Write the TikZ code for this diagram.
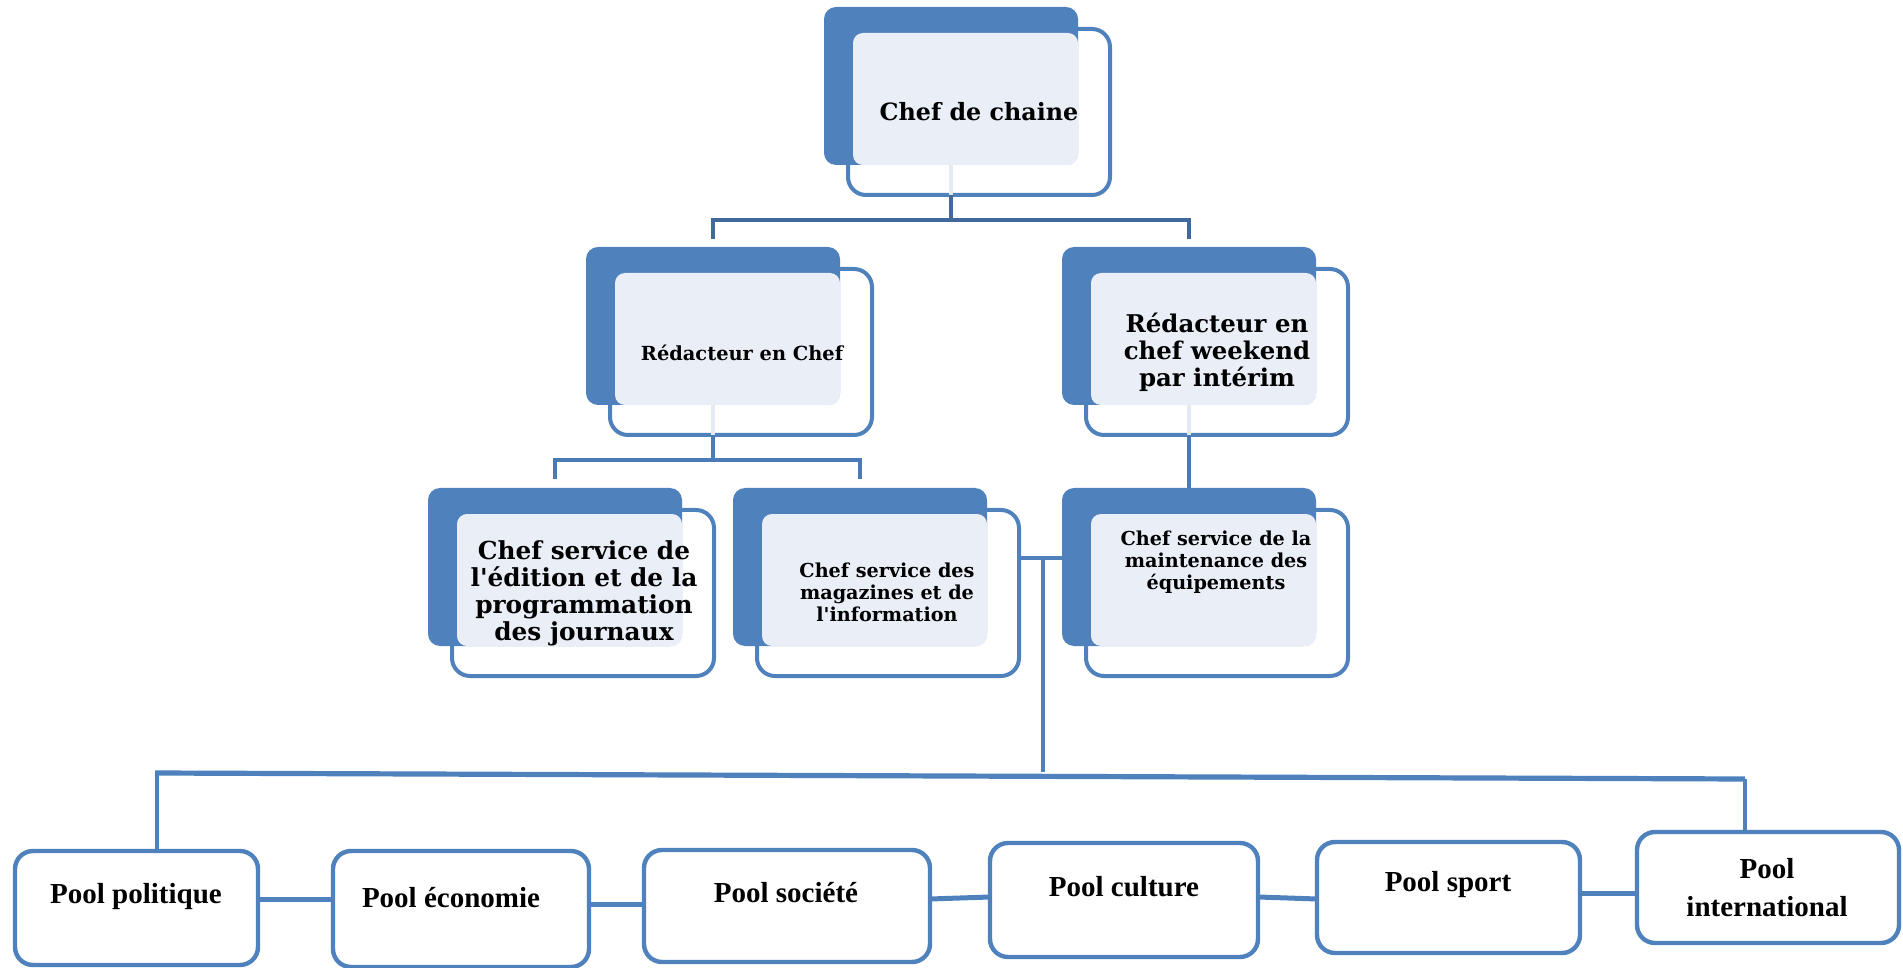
\documentclass[tikz,border=0pt]{standalone}
\usepackage{fontspec}
\setmainfont{Liberation Serif}
\newfontfamily\geo{DejaVu Serif}
\definecolor{myblue}{HTML}{4F81BD}
\definecolor{panelc}{HTML}{EAEFF7}
\definecolor{stubc}{HTML}{E4EAF3}
\definecolor{busdark}{HTML}{41699C}
\definecolor{busmid}{HTML}{4A7BB7}
\tikzset{
  frontbox/.style={draw=myblue, line width=2pt, fill=white, rounded corners=9pt,
    minimum width=131pt, minimum height=83pt, anchor=north west, inner sep=0pt, outer sep=0pt},
  backbox/.style={fill=myblue, rounded corners=6pt, minimum width=127pt, minimum height=79pt,
    anchor=north west, inner sep=0pt, outer sep=0pt},
  panelbox/.style={fill=panelc, rounded corners=5pt, minimum width=112.5pt, minimum height=66pt,
    anchor=north west, inner sep=0pt, outer sep=0pt},
  poolbox/.style={draw=myblue, line width=2.2pt, fill=white, rounded corners=9pt,
    anchor=north west, inner sep=0pt, outer sep=0pt},
  toptext/.style={align=center, inner sep=0pt, text=black},
  pooltext/.style={align=center, inner sep=0pt, text=black,
    font=\bfseries\fontsize{14.5}{19}\selectfont},
  stubline/.style={draw=stubc, line width=2pt},
  busA/.style={draw=busdark, line width=2.2pt},
  busB/.style={draw=busmid, line width=2.2pt},
  conn/.style={draw=myblue, line width=1.8pt},
  bigbus/.style={draw=myblue, line width=2.6pt},
  pconn/.style={draw=myblue, line width=2.5pt}
}
\newcommand{\orgbox}[3]{%
  \node[frontbox] (#1) at (#2+24,#3+22) {};
  \node[backbox] (#1-b) at (#2,#3) {};
  \node[panelbox] (#1-p) at (#2+29,#3+26) {};
}
\begin{document}
\begin{tikzpicture}[x=0.5pt,y=-0.5pt]
\useasboundingbox (0,0) rectangle (1903,968);

% upper boxes
\orgbox{cc}{824}{7}
\orgbox{rc}{586}{247}
\orgbox{rw}{1062}{247}
\orgbox{ed}{428}{488}
\orgbox{mg}{733}{488}
\orgbox{mt}{1062}{488}

\node[toptext, font=\geo\bfseries\fontsize{11.9}{13.5}\selectfont] (cc-t) at (979,112) {Chef de chaine};
\node[toptext, font=\geo\bfseries\fontsize{9.7}{11}\selectfont] (rc-t) at (742,353) {Rédacteur en Chef};
\node[toptext, font=\geo\bfseries\fontsize{12.2}{13.6}\selectfont] (rw-t) at (1217,352) {Rédacteur en\\chef weekend\\par intérim};
\node[toptext, font=\geo\bfseries\fontsize{12.4}{13.5}\selectfont] (ed-t) at (584,593) {Chef service de\\l'édition et de la\\programmation\\des journaux};
\node[toptext, font=\geo\bfseries\fontsize{9.6}{11}\selectfont] (mg-t) at (887,592) {Chef service des\\magazines et de\\l'information};
\node[toptext, font=\geo\bfseries\fontsize{9.6}{11}\selectfont] (mt-t) at (1216,562) {Chef service de la\\maintenance des\\équipements};

% connectors, level 1
\draw[stubline] (cc-b.south) -- (cc-b.south |- cc.south);
\draw[busA] (cc-b.south |- cc.south) -- ++(0,25) coordinate (j1);
\draw[busA] ([yshift=4pt]rc-b.north) |- (j1) -| ([yshift=4pt]rw-b.north);

% level 2
\draw[stubline] (rc-b.south) -- (rc-b.south |- rc.south);
\draw[busB] (rc-b.south |- rc.south) -- ++(0,25) coordinate (j2);
\draw[busB] ([yshift=4.5pt]ed-b.north) |- (j2) -| ([yshift=4.5pt]mg-b.north);

\draw[stubline] (rw-b.south) -- (rw-b.south |- rw.south);
\draw[busB] (rw-b.south |- rw.south) -- (mt-b.north);

% magazines to pools
\coordinate (m1) at ([yshift=-24pt]mg.north east);
\coordinate (m2) at (1043,558);
\coordinate (m3) at (1043,772);
\draw[conn] (m1) -- (m1 -| mt-b.west);
\draw[conn] (m2) -- (m3);

% pools
\node[poolbox, minimum width=121.5pt, minimum height=57pt] (pol) at (15,851) {};
\node[poolbox, minimum width=128pt, minimum height=58pt] (eco) at (333,851) {};
\node[poolbox, minimum width=143pt, minimum height=56pt] (soc) at (644,850) {};
\node[poolbox, minimum width=134pt, minimum height=57pt] (cul) at (990,843) {};
\node[poolbox, minimum width=131.5pt, minimum height=55.5pt] (spo) at (1317,842) {};
\node[poolbox, minimum width=131pt, minimum height=55.5pt] (int) at (1637,832) {};

\node[pooltext] (pol-t) at (136,897) {Pool politique};
\node[pooltext] (eco-t) at (451,898) {Pool économie};
\node[pooltext] (soc-t) at (786,893) {Pool société};
\node[pooltext] (cul-t) at (1124,887) {Pool culture};
\node[pooltext] (spo-t) at (1448,885) {Pool sport};
\node[pooltext] (int-t) at (1767,888) {Pool\\international};

% big bus
\coordinate (bl) at (155,773);
\coordinate (br) at (1745,779);
\draw[bigbus] (bl) -- (br);
\draw[conn] ([xshift=1pt]bl) -- ([xshift=1pt]bl |- pol.north);
\draw[conn] (br) -- (br |- int.north);

% pool connectors
\draw[pconn] ([yshift=4.5pt]pol.east) -- ([yshift=5pt]eco.west);
\draw[pconn] ([yshift=2.5pt]eco.east) -- ([yshift=1pt]soc.west);
\draw[pconn] ([yshift=3.5pt]soc.east) -- ([yshift=1.5pt]cul.west);
\draw[pconn] ([yshift=1.5pt]cul.east) -- ([yshift=-0.75pt]spo.west);
\draw[pconn] ([yshift=2.25pt]spo.east) -- ([yshift=-2.75pt]int.west);
\end{tikzpicture}
\end{document}
